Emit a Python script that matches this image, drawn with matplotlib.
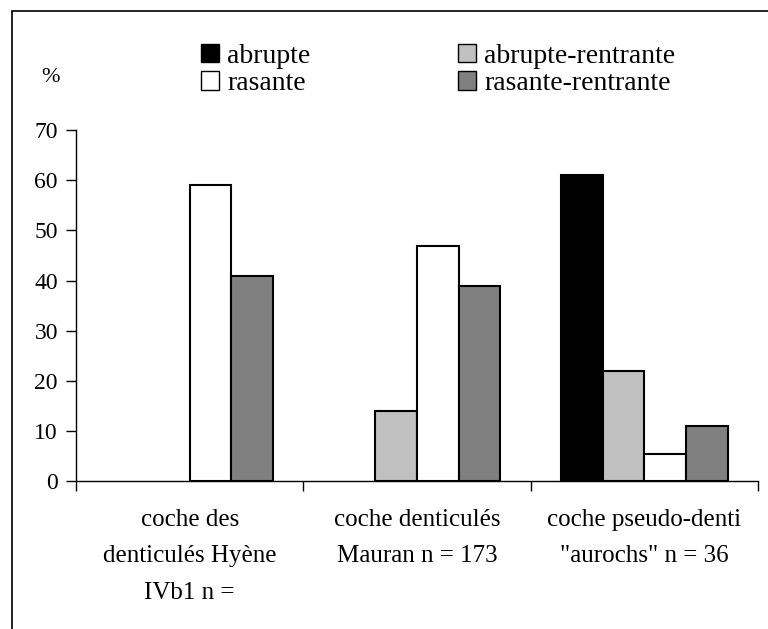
import matplotlib
matplotlib.use("Agg")
import matplotlib.pyplot as plt
from matplotlib.patches import Rectangle, Patch
import numpy as np

## Data

categories = ['coche des\ndenticulés Hyène\nIVb1 n =',
              'coche denticulés\nMauran n = 173',
              'coche pseudo-denti\n"aurochs" n = 36']
series = ['abrupte', 'abrupte-rentrante', 'rasante', 'rasante-rentrante']
abrupte = [0, 0, 61]
abrupte_rentrante = [0, 14, 22]
rasante = [59, 47, 5.5]
rasante_rentrante = [41, 39, 11]
colors = ['#000000', '#c0c0c0', '#ffffff', '#808080']

plt.rcParams['font.family'] = ['Liberation Serif', 'DejaVu Serif']

## Figure

fig = plt.figure(figsize=(7.68, 6.29), dpi=100)
ax = fig.add_axes([0.099, 0.235, 0.888, 0.558])

# outer frame
fig.patches.append(Rectangle((12/768, -0.1), 1.0, 1.1 - 11/629, transform=fig.transFigure,
                             fill=False, edgecolor='black', linewidth=1.2))

x = np.arange(len(categories))
w = 0.183
values = [abrupte, abrupte_rentrante, rasante, rasante_rentrante]
for i, (name, vals) in enumerate(zip(series, values)):
    bars = ax.bar(x + (i - 1.5) * w, vals, w, color=colors[i], edgecolor='black',
                  linewidth=1.5, label=name)
    # empty bars are not drawn in the original
    for b, v in zip(bars, vals):
        if v == 0:
            b.set_visible(False)

ax.set_xlim(-0.5, 2.5)
ax.set_ylim(0, 70)
ax.set_yticks(range(0, 71, 10))
ax.tick_params(axis='y', labelsize=17, length=7, width=1, pad=6)

ax.set_xticks([-0.5, 0.5, 1.5, 2.5])
ax.set_xticklabels([])
ax.tick_params(axis='x', which='major', direction='out', length=7, width=1)
ax.set_xticks(x, minor=True)
ax.set_xticklabels(categories, minor=True, fontsize=18)
for t in ax.get_xticklabels(minor=True):
    t.set_linespacing(1.85)
ax.tick_params(axis='x', which='minor', length=0, pad=20)

for s in ['top', 'right']:
    ax.spines[s].set_visible(False)
for s in ['left', 'bottom']:
    ax.spines[s].set_linewidth(1)

fig.text(50/768, 1 - 78/629, '%', fontsize=16, ha='center', va='center')

handles = [Patch(facecolor=colors[0], edgecolor='black'),
           Patch(facecolor=colors[2], edgecolor='black'),
           Patch(facecolor=colors[1], edgecolor='black'),
           Patch(facecolor=colors[3], edgecolor='black')]
labels = ['abrupte', 'rasante', 'abrupte-rentrante', 'rasante-rentrante']
fig.legend(handles, labels, ncol=2, loc='center left', bbox_to_anchor=(187/768, 1 - 70/629),
           frameon=False, fontsize=20, handlelength=0.65, handleheight=0.65,
           handletextpad=0.3, columnspacing=5.3, labelspacing=0.1, borderpad=0)

fig.savefig('out.png', dpi=100)
